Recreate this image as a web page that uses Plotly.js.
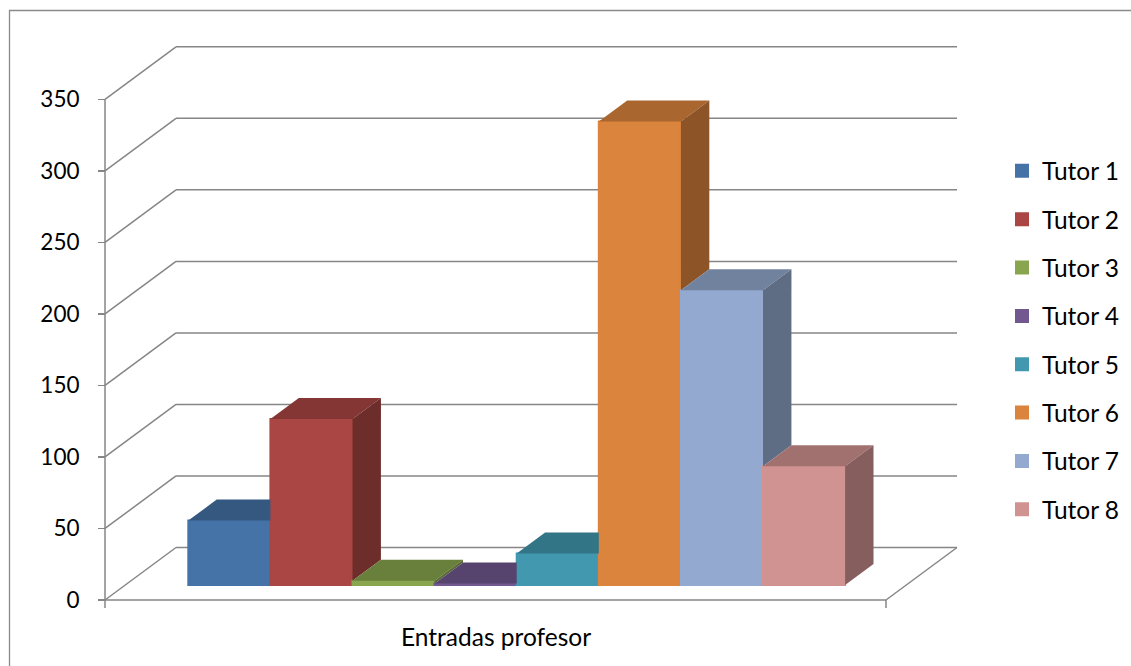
<!DOCTYPE html>
<html><head><meta charset="utf-8">
<script src="https://cdn.plot.ly/plotly-3.0.1.min.js"></script>
<style>html,body{margin:0;padding:0;background:#fff}#chart{width:1131px;height:666px}</style>
</head><body><div id="chart"></div>
<script>
// ---- data ----
const tutors = ['Tutor 1','Tutor 2','Tutor 3','Tutor 4','Tutor 5','Tutor 6','Tutor 7','Tutor 8'];
const entradas = [45, 116, 3, 1, 22, 324, 206, 83];
const colors = ['#4572A7','#AA4643','#89A54E','#71588F','#4198AF','#DB843D','#93A9CF','#D19392'];
const yTicks = [0, 50, 100, 150, 200, 250, 300, 350];
const categoryLabel = 'Entradas profesor';

// ---- geometry of the oblique 3D look ----
const M = {l: 100, r: 170, t: 40, b: 48, autoexpand: false};
const PW = 1131 - M.l - M.r, PH = 666 - M.t - M.b;
const K = 500.7 / 350;           // px per value unit
const ZERO_PX = 600;             // pixel row of value 0 (front plane)
const W = 781;                   // floor width (x units = px)
const DX = 71;                   // full depth x-shift
const DY = 52.5 / K;             // full depth y-shift in value units
const F1 = 0.286, FD = 0.4;      // bar front depth and bar depth
const BW = 82.1, GAP = 63;
const base = F1 * DY, dxd = FD * DX, dyd = FD * DY;
const x0 = F1 * DX + GAP;
const yMax = yTicks[yTicks.length - 1];

function shade(hex, f) {
  const n = parseInt(hex.slice(1), 16);
  const r = Math.round(((n >> 16) & 255) * f), g = Math.round(((n >> 8) & 255) * f), b = Math.round((n & 255) * f);
  return 'rgb(' + r + ',' + g + ',' + b + ')';
}
const px2x = px => (px - M.l) / PW;
const py2y = py => (M.t + PH - py) / PH;

const traces = [];
// front faces: real bar traces
tutors.forEach((name, i) => {
  traces.push({
    type: 'bar', name: name, legendgroup: 'g' + i,
    x: [x0 + (i + 0.5) * BW], y: [entradas[i]], base: [base], width: [BW],
    marker: {color: colors[i], line: {color: colors[i], width: 2}},
    hovertemplate: name + ': %{y}<extra></extra>'
  });
});
// top and side faces (drawn left to right, hidden parts removed)
tutors.forEach((name, i) => {
  const v = entradas[i];
  const xl = x0 + i * BW, xr = xl + BW;
  const t = base + v;
  const next = i < tutors.length - 1 ? entradas[i + 1] : -Infinity;
  const tn = Math.min(Math.max(base + next, t), t + dyd);
  const cut = xr + (t + dyd - tn) / dyd * dxd;
  traces.push({
    type: 'scatter', mode: 'lines', fill: 'toself', showlegend: false, hoverinfo: 'skip', legendgroup: 'g' + i,
    x: [xl, xr, xr, cut, xl + dxd, xl], y: [t, t, tn, t + dyd, t + dyd, t],
    fillcolor: shade(colors[i], 0.77), line: {color: shade(colors[i], 0.77), width: 0}
  });
  if (next < v) {
    const sb = Math.max(next, 0) + base;
    traces.push({
      type: 'scatter', mode: 'lines', fill: 'toself', showlegend: false, hoverinfo: 'skip', legendgroup: 'g' + i,
      x: [xr, xr, xr + dxd, xr + dxd, xr], y: [sb, t, t + dyd, sb + dyd, sb],
      fillcolor: shade(colors[i], 0.64), line: {color: shade(colors[i], 0.64), width: 0}
    });
  }
});

// walls, floor and axis lines
const gl = {color: '#868686', width: 1.5};
const shapes = [];
yTicks.forEach(v => {
  shapes.push({type: 'line', xref: 'x', yref: 'y', layer: 'below', x0: 0, y0: v, x1: DX, y1: v + DY, line: gl});
  shapes.push({type: 'line', xref: 'x', yref: 'y', layer: 'below', x0: DX, y0: v + DY, x1: W + DX, y1: v + DY, line: gl});
});
shapes.push({type: 'line', xref: 'x', yref: 'y', layer: 'below', x0: 0, y0: 0, x1: W, y1: 0, line: gl});
shapes.push({type: 'line', xref: 'x', yref: 'y', layer: 'below', x0: W, y0: 0, x1: W + DX, y1: DY, line: gl});
shapes.push({type: 'line', xref: 'x', yref: 'y', layer: 'below', x0: 0, y0: 0, x1: 0, y1: yMax, line: gl});
[0, W].forEach(xx => shapes.push({type: 'line', xref: 'x', yref: 'y', layer: 'below', x0: xx, y0: 0, x1: xx, y1: -8 / K, line: gl}));
// outer chart border
shapes.push({type: 'rect', xref: 'paper', yref: 'paper', layer: 'above',
  x0: px2x(9.5), y0: py2y(10.5), x1: px2x(1140), y1: py2y(680), line: {color: '#8a8a8a', width: 1.3}});

const fam = 'Lato, "Open Sans", sans-serif';
const tickFont = {family: fam, size: 22.5, color: '#000'};
const textFont = {family: fam, size: 24.5, color: '#000'};
const layout = {
  width: 1131, height: 666, margin: M,
  paper_bgcolor: '#fff', plot_bgcolor: 'rgba(0,0,0,0)',
  font: textFont, barmode: 'overlay', showlegend: true,
  xaxis: {visible: false, range: [-5, PW - 5], fixedrange: true},
  yaxis: {range: [(ZERO_PX - (M.t + PH)) / K, (ZERO_PX - M.t) / K], anchor: 'free', position: px2x(105),
    tickvals: yTicks, ticktext: yTicks.map(String), ticks: 'outside', ticklen: 7, tickwidth: 1.5, tickcolor: '#868686',
    showgrid: false, zeroline: false, showline: false, ticklabelstandoff: 14, tickfont: tickFont, fixedrange: true},
  legend: {x: px2x(1002), xanchor: 'left', y: py2y(148.4), yanchor: 'top', font: textFont,
    tracegroupgap: 13.5, traceorder: 'grouped', bgcolor: 'rgba(0,0,0,0)'},
  annotations: [{text: categoryLabel, xref: 'x', yref: 'paper', x: W / 2, y: py2y(636),
    xanchor: 'center', yanchor: 'middle', showarrow: false, font: textFont}],
  shapes: shapes
};
Plotly.newPlot('chart', traces, layout, {displayModeBar: false, staticPlot: true});
</script>
</body></html>
